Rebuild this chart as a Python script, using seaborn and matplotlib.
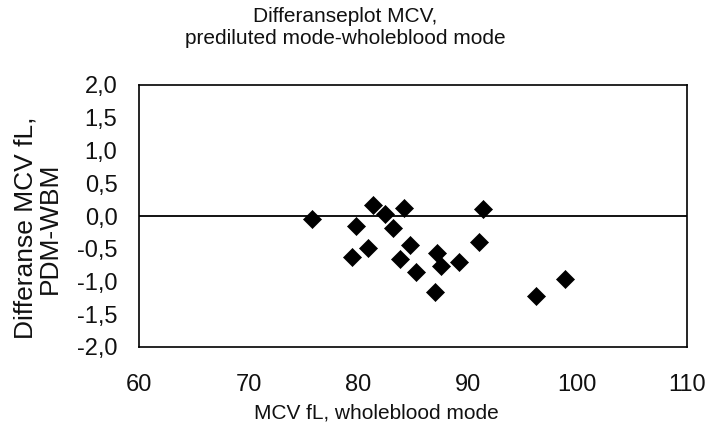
import matplotlib
matplotlib.use("Agg")
import matplotlib.pyplot as plt
import seaborn as sns
import pandas as pd

# Data
mcv_wholeblood = [75.8, 81.35, 79.8, 82.45, 83.2, 84.2, 84.7, 80.9, 79.4, 83.8,
                  85.3, 87.2, 87.6, 87.05, 89.2, 91.0, 91.35, 96.2, 98.9]
mcv_difference = [-0.04, 0.17, -0.15, 0.03, -0.18, 0.12, -0.44, -0.49, -0.63, -0.65,
                  -0.85, -0.56, -0.76, -1.16, -0.70, -0.40, 0.11, -1.22, -0.96]

x_ticks = [60, 70, 80, 90, 100, 110]
x_ticklabels = ["60", "70", "80", "90", "100", "110"]
y_ticks = [-2.0, -1.5, -1.0, -0.5, 0.0, 0.5, 1.0, 1.5, 2.0]
y_ticklabels = ["-2,0", "-1,5", "-1,0", "-0,5", "0,0", "0,5", "1,0", "1,5", "2,0"]

title_lines = ["Differanseplot MCV,", "prediluted mode-wholeblood mode"]
x_label = "MCV fL, wholeblood mode"
y_label = "Differanse MCV fL,\nPDM-WBM"

df = pd.DataFrame({"x": mcv_wholeblood, "y": mcv_difference})

sns.set_style("white")
plt.rcParams["font.family"] = ["Liberation Sans", "DejaVu Sans"]

fig = plt.figure(figsize=(7.07, 4.28), dpi=100)
ax = fig.add_axes([139 / 707, 1 - 347 / 428, (687 - 139) / 707, (347 - 85) / 428])

ax.axhline(0, color="black", lw=1.3, zorder=1)
sns.scatterplot(data=df, x="x", y="y", ax=ax, marker="D", s=84,
                color="black", edgecolor="black", linewidth=0.5, zorder=3, legend=False)

ax.set_xlim(60, 110)
ax.set_ylim(-2.0, 2.0)
ax.set_xticks(x_ticks)
ax.set_xticklabels(x_ticklabels)
ax.set_yticks(y_ticks)
ax.set_yticklabels(y_ticklabels)
ax.tick_params(axis="both", direction="out", length=3.5, width=1, color="black",
               labelsize=17, labelcolor="#111111")
ax.tick_params(axis="x", pad=16)
ax.tick_params(axis="y", pad=12)
ax.set_xlabel("")
ax.set_ylabel("")
for s in ax.spines.values():
    s.set_visible(True)
    s.set_color("black")
    s.set_linewidth(1.2)

fig.text(345 / 707, 1 - 17 / 428, title_lines[0], ha="center", va="center", fontsize=15, color="#111111")
fig.text(345 / 707, 1 - 39 / 428, title_lines[1], ha="center", va="center", fontsize=15, color="#111111")
fig.text(376 / 707, 1 - 413 / 428, x_label, ha="center", va="center", fontsize=15, color="#111111")
fig.text(38 / 707, 1 - 228 / 428, y_label, ha="center", va="center", rotation=90,
         fontsize=19, color="#111111", linespacing=1.0, multialignment="center")

fig.savefig("out.png", dpi=100, facecolor="white")
